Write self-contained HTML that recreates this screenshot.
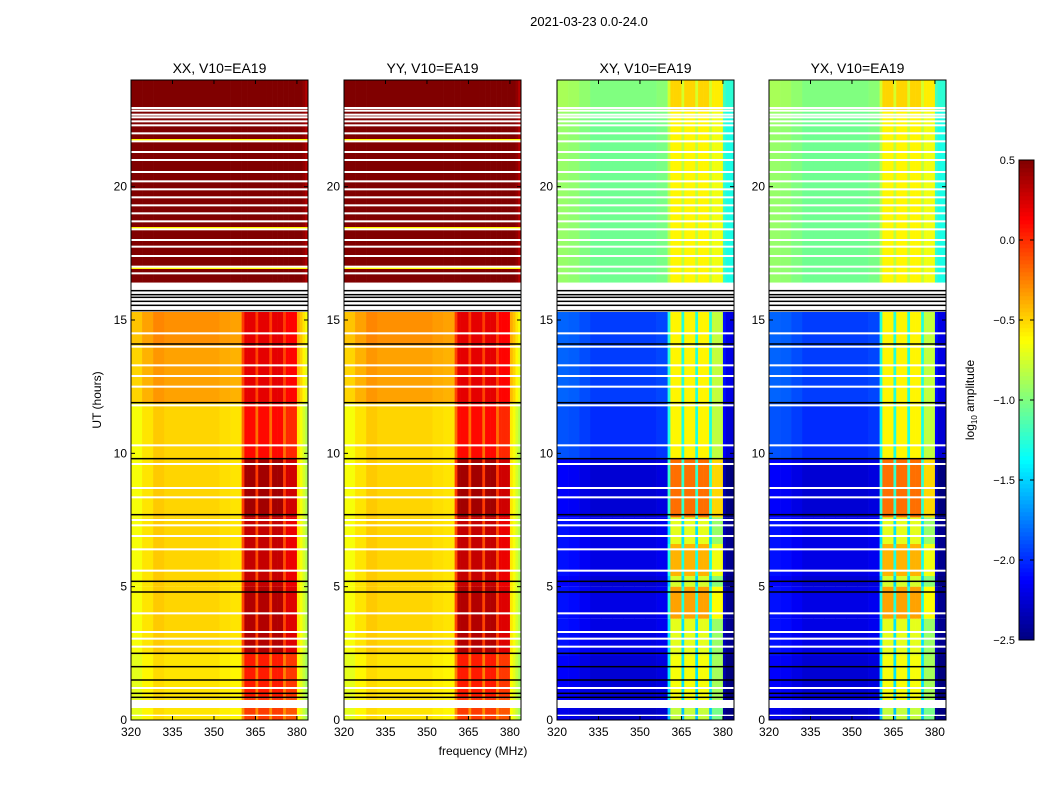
<!DOCTYPE html>
<html><head><meta charset="utf-8">
<style>
body{margin:0;background:#fff;font-family:"Liberation Sans",sans-serif;}
svg text{font-family:"Liberation Sans",sans-serif;fill:#000;}
</style></head>
<body>
<svg id="fig" width="1050" height="800" xmlns="http://www.w3.org/2000/svg">
<rect width="1050" height="800" fill="#fff"/>
<text x="589" y="26" font-size="13" text-anchor="middle">2021-03-23 0.0-24.0</text>
<text x="483" y="755" font-size="12" text-anchor="middle">frequency (MHz)</text>
<text transform="translate(101,400) rotate(-90)" font-size="12" text-anchor="middle">UT (hours)</text>
<g id="panels"></g>
<g id="cbar"></g>
</svg>
<script>
// ---- data ----
const panelTitles = ["XX, V10=EA19","YY, V10=EA19","XY, V10=EA19","YX, V10=EA19"];
const panelKinds = ["par","par","cross","cross"];
const freqEdges = [320,324,328,332,336,340,344,348,352,356,360,361,362,363,364,365,366,367,368,369,370,371,372,373,374,375,376,377,378,379,380,381,382,383,384];
const colOutPar = [-0.15,-0.05,0.03,0,0,0,0,0,-0.03,-0.05];
const colOutCross = [0.12,0.1,0.05,0,0,0,0,0,0,0.03];
const bandFrac = [0.5,1,1,1,1,0.5,1,1,1,1,0.5,1,1,1,1,0.5,0.85,0.85,0.85,0.85,0.05,0,0,0];
const highEdgePar = [-0.1,-0.15,-0.25,-0.35];
const highEdgeCross = [-0.2,-0.25,-0.25,-0.25];
// segments: [startHour, endHour, outOfBandLevel, bandBoost]
const segPar = [[0,0.8,-0.55,0.5],[0.8,2.5,-0.55,0.6],[2.5,5,-0.5,0.85],[5,7.6,-0.5,0.8],[7.6,9.8,-0.5,0.9],[9.8,11.9,-0.5,0.6],[11.9,14.1,-0.35,0.55],[14.1,15.3,-0.3,0.5],[16.4,24,0.7,0]];
const segCross = [[0,0.7,-2.3,1.5],[0.7,2.4,-2.25,1.6],[2.4,3.8,-2.2,1.5],[3.8,5,-2.2,1.85],[5,5.4,-2.25,1.5],[5.4,6.6,-2.2,1.8],[6.6,7.6,-2.2,1.5],[7.6,9.8,-2.25,2.05],[9.8,11.9,-2.0,1.4],[11.9,15.3,-1.95,1.35],[16.4,22.8,-1.05,0.45],[22.8,24,-1.0,0.5]];
const whiteBlocks = [[0.45,0.75],[15.45,16.4],[0.15,0.2]];
const whiteLines = [22.95,22.85,22.7,22.6,22.45,22.3,22.0,21.7,21.3,21.0,20.55,20.2,19.9,19.6,19.3,19.0,18.7,18.4,18.0,17.75,17.4,17.0,16.75,14.5,14.0,13.3,12.9,12.5,11.8,10.3,9.6,8.7,8.35,7.5,7.3,6.9,6.4,5.6,4.0,3.3,3.05,2.75,1.2];
const blackLines = [15.35,15.55,15.7,15.85,15.95,16.1,14.1,11.9,9.8,7.7,5.2,4.8,2.5,2.0,1.5,1.0,0.85];
const yellowPar = [21.75,18.45,16.95];
const xTicks = [320,335,350,365,380];
const yTicks = [0,5,10,15,20];
const cbTicks = [0.5,0.0,-0.5,-1.0,-1.5,-2.0,-2.5];
const panelX = [131,344,557,769];
const PW=177, PT=80, PB=720;
const NS="http://www.w3.org/2000/svg";
function jet(v){let t=(v+2.5)/3;t=Math.max(0,Math.min(1,t));
 const c=x=>Math.round(255*Math.max(0,Math.min(1,x)));
 return `rgb(${c(1.5-Math.abs(4*t-3))},${c(1.5-Math.abs(4*t-2))},${c(1.5-Math.abs(4*t-1))})`;}
function el(tag,attrs,parent){const e=document.createElementNS(NS,tag);for(const k in attrs)e.setAttribute(k,attrs[k]);parent.appendChild(e);return e;}
const yS=h=>PB-(h/24)*(PB-PT);
const panels=document.getElementById('panels');
panelTitles.forEach((title,p)=>{
 const x0=panelX[p];const xS=f=>x0+(f-320)/64*PW;
 const g=el('g',{},panels);
 
 
 const segs=panelKinds[p]=="par"?segPar:segCross;
 const out=panelKinds[p]=="par"?colOutPar:colOutCross;
 const hi=panelKinds[p]=="par"?highEdgePar:highEdgeCross;
 const cells=el('g',{},g);
 
 
 segs.forEach(s=>{
  for(let c=0;c<freqEdges.length-1;c++){
   const f0=freqEdges[c],f1=freqEdges[c+1];
   let v=s[2];
   if(c<10)v+=out[c];else{const bi=c-10;v+=s[3]*bandFrac[bi];if(bi>=20)v+=hi[bi-20];}
   const r=el('rect',{x:xS(f0),y:yS(s[1]),width:xS(f1)-xS(f0)+0.3,height:yS(s[0])-yS(s[1]),fill:jet(v)},cells);
   
   
  }
 });
 if(panelKinds[p]=="par") yellowPar.forEach(h=>{
  const r=el('rect',{x:x0,y:yS(h)-1,width:PW,height:2,fill:jet(-0.6)},g);
  
  
 });
 whiteBlocks.forEach(b=>{
  const r=el('rect',{x:x0,y:yS(b[1]),width:PW,height:yS(b[0])-yS(b[1]),fill:'#fff'},g);
  
  
 });
 whiteLines.forEach(h=>{
  const r=el('rect',{x:x0,y:yS(h)-1,width:PW,height:2,fill:'#fff'},g);
  
  
 });
 blackLines.forEach(h=>{
  const r=el('rect',{x:x0,y:yS(h)-0.75,width:PW,height:1.5,fill:'#000'},g);
  
  
 });
 const fr=el('rect',{x:x0,y:PT,width:PW,height:PB-PT,fill:'none',stroke:'#000','stroke-width':1},g);
 
 
 const t=el('text',{x:x0+PW/2,y:73,'font-size':14,'text-anchor':'middle'},g);t.textContent=title;
 
 
 xTicks.forEach(f=>{
  el('line',{x1:xS(f),x2:xS(f),y1:PB,y2:PB-4,stroke:'#000'},g);
  el('line',{x1:xS(f),x2:xS(f),y1:PT,y2:PT+4,stroke:'#000'},g);
  const l=el('text',{x:xS(f),y:PB+16,'font-size':12,'text-anchor':'middle'},g);l.textContent=f;
  
  
 });
 yTicks.forEach(h=>{
  el('line',{x1:x0,x2:x0+4,y1:yS(h),y2:yS(h),stroke:'#000'},g);
  el('line',{x1:x0+PW,x2:x0+PW-4,y1:yS(h),y2:yS(h),stroke:'#000'},g);
  const l=el('text',{x:x0-4,y:yS(h)+4,'font-size':12,'text-anchor':'end'},g);l.textContent=h;
  
  
 });
});
// colorbar
const cb=document.getElementById('cbar');


const CX=1019,CW=15,CT=160,CB=640;
const cy=v=>CB-(v+2.5)/3*(CB-CT);
for(let i=0;i<120;i++){const v0=-2.5+3*i/120,v1=-2.5+3*(i+1)/120;
 el('rect',{x:CX,y:cy(v1),width:CW,height:cy(v0)-cy(v1)+0.3,fill:jet((v0+v1)/2)},cb);}
el('rect',{x:CX,y:CT,width:CW,height:CB-CT,fill:'none',stroke:'#000'},cb);
cbTicks.forEach(v=>{
 el('line',{x1:CX+CW-4,x2:CX+CW,y1:cy(v),y2:cy(v),stroke:'#000'},cb);
 el('line',{x1:CX,x2:CX+4,y1:cy(v),y2:cy(v),stroke:'#000'},cb);
 const l=el('text',{x:CX-4,y:cy(v)+4,'font-size':11,'text-anchor':'end'},cb);l.textContent=(v<0?'\u2212':'')+Math.abs(v).toFixed(1);
 
 
});
const cl=el('text',{transform:'translate(974,400) rotate(-90)','font-size':12,'text-anchor':'middle'},cb);
cl.innerHTML='log<tspan font-size="8" dy="3">10</tspan><tspan dy="-3"> amplitude</tspan>';


</script>
</body></html>
